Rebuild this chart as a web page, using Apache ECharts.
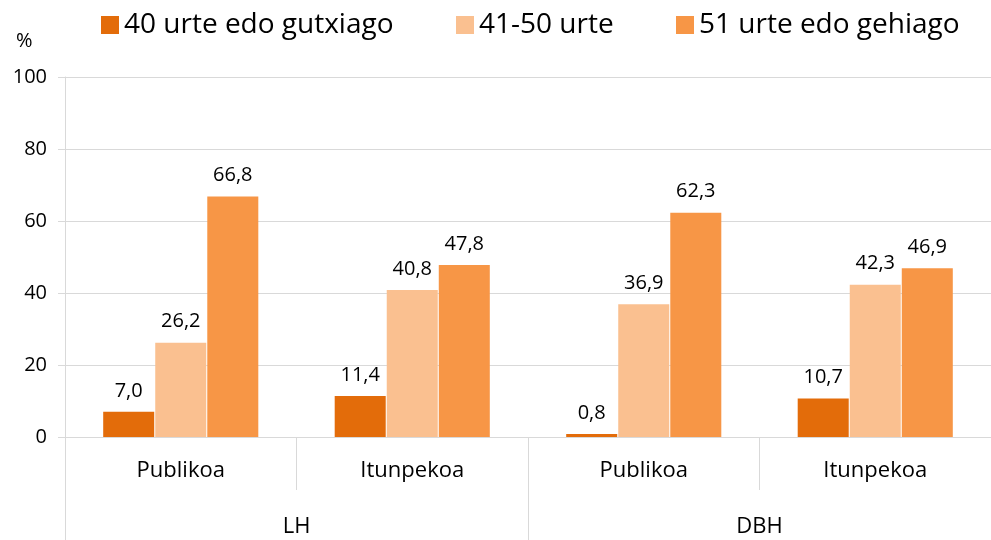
<!DOCTYPE html>
<html>
<head>
<meta charset="utf-8">
<script src="https://cdn.jsdelivr.net/npm/echarts@6/dist/echarts.min.js"></script>
<style>
  html, body { margin: 0; padding: 0; background: #fff; }
  #chart { width: 991px; height: 540px; }
</style>
</head>
<body>
<div id="chart"></div>
<script>
  // datuak
  const categories = ['Publikoa', 'Itunpekoa', 'Publikoa', 'Itunpekoa']
  const groups = ['LH', 'DBH']
  const seriesNames = ['40 urte edo gutxiago', '41-50 urte', '51 urte edo gehiago']
  const young = [7.0, 11.4, 0.8, 10.7]
  const middle = [26.2, 40.8, 36.9, 42.3]
  const old = [66.8, 47.8, 62.3, 46.9]
  const yTicks = [0, 20, 40, 60, 80, 100]

  const colors = ['#E36C0A', '#FAC090', '#F79646']
  const font = 'Open Sans'
  const gridColor = '#D9D9D9'

  let chart = echarts.init(document.getElementById('chart'))

  const makeSeries = (name, data, i) => ({
    name: name,
    type: 'bar',
    data: data,
    barGap: '2%',
    barCategoryGap: '33%',
    itemStyle: {color: colors[i]},
    label: {
      show: true,
      position: 'top',
      distance: 11,
      fontFamily: font,
      fontSize: 20,
      color: '#000',
      formatter: p => p.value.toFixed(1).replace('.', ',')
    }
  })

  const legendAt = (i, left) => ({
    data: [seriesNames[i]],
    left: left,
    top: 6,
    itemWidth: 18,
    itemHeight: 18,
    itemGap: 8,
    icon: 'rect',
    textStyle: {fontFamily: font, fontSize: 28, color: '#000'}
  })

  chart.setOption({
    animation: false,
    legend: [legendAt(0, 96), legendAt(1, 451), legendAt(2, 671)],
    grid: {left: 65, top: 77, width: 932, height: 360},
    graphic: [{
      type: 'text',
      left: 16,
      top: 31,
      style: {text: '%', fontFamily: font, fontSize: 20, fill: '#000'}
    }],
    xAxis: [{
      type: 'category',
      data: categories,
      position: 'bottom',
      axisLine: {lineStyle: {color: gridColor}},
      axisTick: {show: true, length: 53, lineStyle: {color: gridColor}},
      axisLabel: {margin: 23, fontFamily: font, fontSize: 22, color: '#000'}
    }, {
      type: 'category',
      data: groups,
      position: 'bottom',
      axisLine: {show: false},
      axisTick: {show: true, length: 110, lineStyle: {color: gridColor}},
      axisLabel: {margin: 79, fontFamily: font, fontSize: 22, color: '#000'}
    }],
    yAxis: {
      type: 'value',
      min: yTicks[0],
      max: yTicks[yTicks.length - 1],
      interval: 20,
      axisLine: {show: true, lineStyle: {color: gridColor}},
      axisTick: {show: true, length: 7, lineStyle: {color: gridColor}},
      splitLine: {lineStyle: {color: gridColor}},
      axisLabel: {margin: 18, fontFamily: font, fontSize: 20, color: '#000'}
    },
    series: [
      makeSeries(seriesNames[0], young, 0),
      makeSeries(seriesNames[1], middle, 1),
      makeSeries(seriesNames[2], old, 2)
    ]
  })
</script>
</body>
</html>
